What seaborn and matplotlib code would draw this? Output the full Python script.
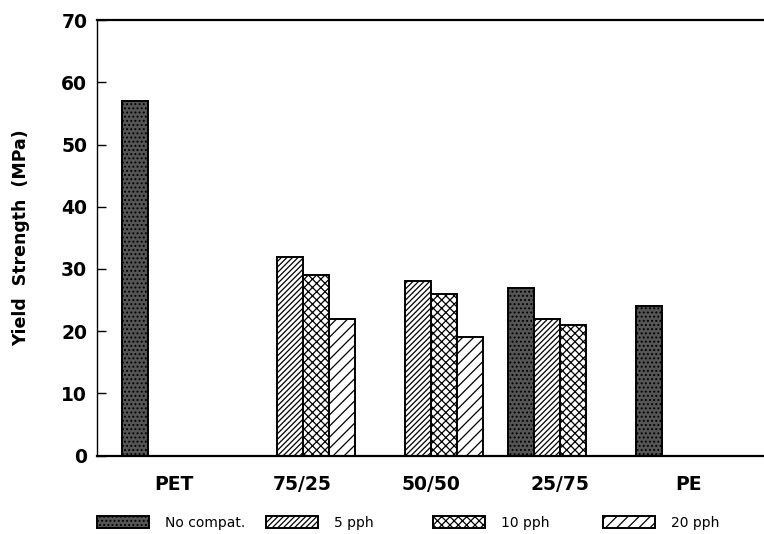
import numpy as np
import pandas as pd
import matplotlib
matplotlib.use("Agg")
import matplotlib.pyplot as plt
import seaborn as sns

categories = ["PET", "75/25", "50/50", "25/75", "PE"]
series = ["No compat.", "5 pph", "10 pph", "20 pph"]
no_compat = [57, np.nan, np.nan, 27, 24]
pph5 = [np.nan, 32, 28, 22, np.nan]
pph10 = [np.nan, 29, 26, 21, np.nan]
pph20 = [np.nan, 22, 19, np.nan, np.nan]
yticks = [0, 10, 20, 30, 40, 50, 60, 70]

values = {"No compat.": no_compat, "5 pph": pph5, "10 pph": pph10, "20 pph": pph20}
rows = []
for s in series:
    for c, v in zip(categories, values[s]):
        if not np.isnan(v):
            rows.append({"Blend": c, "Compat": s, "Yield": v})
df = pd.DataFrame(rows)

sns.set_style("white")
plt.rcParams["font.family"] = ["DejaVu Sans"]
plt.rcParams["hatch.linewidth"] = 0.9
plt.rcParams["hatch.color"] = "black"
for k in ["text.color", "axes.labelcolor", "xtick.color", "ytick.color", "axes.edgecolor"]:
    plt.rcParams[k] = "black"

fig = plt.figure(figsize=(7.64, 5.34), dpi=100)
ax = fig.add_axes([0.127, 0.1466, 0.873, 0.8159])

palette = {"No compat.": "#555555", "5 pph": "white", "10 pph": "white", "20 pph": "white"}
sns.barplot(data=df, x="Blend", y="Yield", hue="Compat", order=categories,
            hue_order=series, palette=palette, errorbar=None, width=0.81,
            edgecolor="black", linewidth=1.4, legend=False, ax=ax, saturation=1)

hatches = {"No compat.": "....", "5 pph": "//////", "10 pph": "xxxx", "20 pph": "///"}
for s, cont in zip(series, ax.containers):
    for p in cont:
        p.set_hatch(hatches[s])
        p.set_edgecolor("black")

ax.set_xlim(-0.6, 4.59)
ax.set_ylim(0, 70)
ax.set_yticks(yticks)
ax.set_yticklabels([str(t) for t in yticks], fontsize=13.5, fontweight="bold")
ax.set_xticks(range(len(categories)))
ax.set_xticklabels(categories, fontsize=13.5, fontweight="bold")
ax.tick_params(axis="x", length=0, pad=14)
ax.tick_params(axis="y", direction="in", length=6.5, width=1, pad=7, left=True)
ax.set_xlabel("")
ax.set_ylabel("Yield  Strength  (MPa)", fontsize=12.5, fontweight="bold")
ax.yaxis.set_label_coords(-0.1, 0.5)

for side in ["left", "top", "bottom"]:
    ax.spines[side].set_visible(True)
    ax.spines[side].set_color("black")
ax.spines["left"].set_linewidth(1.0)
ax.spines["top"].set_linewidth(1.6)
ax.spines["bottom"].set_linewidth(1.6)
ax.spines["right"].set_visible(False)

box_x = [97, 266, 433, 603]
fs = 10
px = fs * 100 / 72
for s, cont, bx in zip(series, ax.containers, box_x):
    fig.legend([cont[0]], [s], loc="center left",
               bbox_to_anchor=(bx / 764, 1 - 522.5 / 534),
               frameon=False, fontsize=fs, borderpad=0, borderaxespad=0,
               handlelength=52 / px, handleheight=13 / px, handletextpad=16 / px)

fig.savefig("out.png", dpi=100)
